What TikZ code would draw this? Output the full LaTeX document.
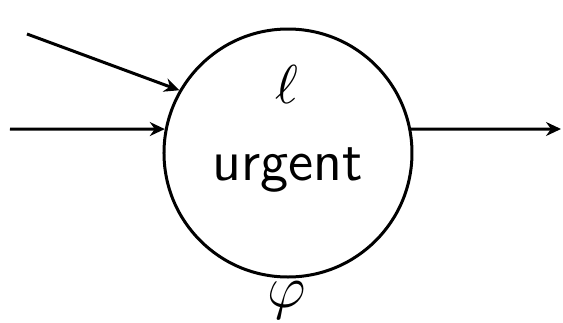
\documentclass[tikz,border=0pt]{standalone}
\usepackage{tikz}
\usetikzlibrary{arrows.meta,positioning}
\tikzset{
  location/.style={circle,draw,line width=0.6pt,minimum size=49.6pt,
                   inner sep=0pt},
  flow/.style    ={-{Stealth[length=3pt,width=2.8pt,inset=1pt]},line width=0.6pt},
  tag/.style     ={anchor=base,inner sep=0pt}
}

\begin{document}
\begin{tikzpicture}[x=0.2pt,y=0.2pt]
        \useasboundingbox (0,0) rectangle (563,322);
        \node[location] (loc) at (288,169) {};
        \node[tag,font=\fontsize{10.5}{12}\selectfont] (name) at (287,219) {$\ell$};
        \node[tag,font=\fontsize{11.5}{14}\sffamily] (kind) at (288,142) {urgent};
        \node[tag,font=\fontsize{11.5}{14}\selectfont] (inv) at (287,15) {$\varphi$};
        % free ends of the edges
        \coordinate (src1) at (27,288);
        \coordinate (src2) at (10,193);
        \coordinate (dst) at (561,193);
        \draw[flow] (src1) -- (loc.150.5);
        \draw[flow] (src2) -- (loc.169);
        \draw[flow] (loc.11) -- (dst);
      \end{tikzpicture}
\end{document}
